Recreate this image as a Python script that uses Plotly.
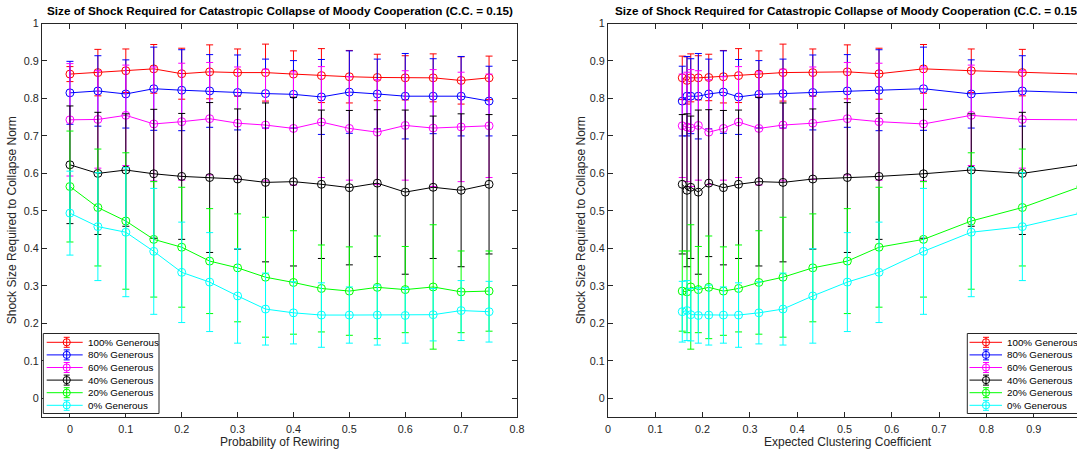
import plotly.graph_objects as go

W, H = 1077, 451
FONT = "Liberation Sans, Arial, Helvetica, sans-serif"
AXC = "#262626"

# ---------------- data ----------------
p_rewire = [0, 0.05, 0.1, 0.15, 0.2, 0.25, 0.3, 0.35, 0.4, 0.45, 0.5, 0.55, 0.6, 0.65, 0.7, 0.75]
clust_coef = [1.0, 0.876, 0.768, 0.667, 0.573, 0.506, 0.433, 0.370, 0.319, 0.276,
              0.244, 0.213, 0.191, 0.175, 0.167, 0.157]

series_names = ["100% Generous", "80% Generous", "60% Generous",
                "40% Generous", "20% Generous", "0% Generous"]
series_colors = ["#ff0000", "#0000ff", "#ff00ff", "#000000", "#00ff00", "#00ffff"]

mean_100 = [0.865, 0.869, 0.874, 0.879, 0.866, 0.871, 0.869, 0.869, 0.865, 0.861, 0.858, 0.856, 0.855, 0.855, 0.848, 0.855]
std_100 = [0.020, 0.062, 0.058, 0.065, 0.068, 0.072, 0.063, 0.076, 0.062, 0.072, 0.070, 0.062, 0.059, 0.064, 0.063, 0.058]
mean_80 = [0.815, 0.820, 0.812, 0.826, 0.822, 0.820, 0.816, 0.813, 0.811, 0.804, 0.817, 0.812, 0.806, 0.806, 0.806, 0.793]
std_80 = [0.084, 0.094, 0.091, 0.111, 0.108, 0.097, 0.100, 0.092, 0.090, 0.100, 0.110, 0.093, 0.114, 0.100, 0.106, 0.093]
mean_60 = [0.743, 0.744, 0.755, 0.732, 0.738, 0.746, 0.734, 0.729, 0.720, 0.737, 0.720, 0.710, 0.728, 0.721, 0.724, 0.727]
std_60 = [0.150, 0.130, 0.134, 0.152, 0.156, 0.150, 0.150, 0.149, 0.151, 0.148, 0.138, 0.140, 0.146, 0.156, 0.146, 0.138]
mean_40 = [0.623, 0.600, 0.609, 0.599, 0.592, 0.589, 0.585, 0.576, 0.578, 0.571, 0.562, 0.574, 0.550, 0.563, 0.555, 0.571]
std_40 = [0.157, 0.163, 0.150, 0.172, 0.168, 0.200, 0.187, 0.212, 0.225, 0.198, 0.206, 0.196, 0.219, 0.190, 0.204, 0.186]
mean_20 = [0.565, 0.509, 0.473, 0.424, 0.403, 0.366, 0.348, 0.323, 0.309, 0.293, 0.286, 0.296, 0.290, 0.297, 0.284, 0.286]
std_20 = [0.148, 0.156, 0.182, 0.154, 0.160, 0.140, 0.144, 0.160, 0.138, 0.116, 0.118, 0.137, 0.115, 0.166, 0.109, 0.107]
mean_0 = [0.494, 0.458, 0.443, 0.392, 0.336, 0.310, 0.273, 0.238, 0.228, 0.222, 0.222, 0.222, 0.221, 0.223, 0.234, 0.231]
std_0 = [0.112, 0.144, 0.172, 0.168, 0.134, 0.132, 0.126, 0.096, 0.083, 0.086, 0.075, 0.080, 0.074, 0.070, 0.080, 0.081]

series_means = [mean_100, mean_80, mean_60, mean_40, mean_20, mean_0]
series_stds = [std_100, std_80, std_60, std_40, std_20, std_0]

title_text = "Size of Shock Required for Catastropic Collapse of Moody Cooperation (C.C. = 0.15)"
ylabel_text = "Shock Size Required to Collapse Norm"
xlabel_left = "Probability of Rewiring"
xlabel_right = "Expected Clustering Coefficient"

# ---------------- layout geometry (pixels) ----------------
L_AX = (42.0, 517.0)      # left axes x pixel extent
R_AX_LEFT = 608.0         # right axes left pixel
R_PX_PER_UNIT = 473.0
R_AX_RIGHT = 1088.0       # right axes box extends past the window edge
AX_TOP, AX_BOT = 23.5, 417.0


def fx(x):
    return x / W


def fy(y):
    return 1 - y / H


fig = go.Figure()

for xs, xa, ya in [(p_rewire, "x", "y"), (clust_coef, "x2", "y2")]:
    for name, col, m, s in zip(series_names, series_colors, series_means, series_stds):
        fig.add_trace(go.Scatter(
            x=xs, y=m, name=name, xaxis=xa, yaxis=ya, mode="lines+markers",
            line=dict(color=col, width=1),
            marker=dict(symbol="circle-open", size=8, color=col, line=dict(width=1, color=col)),
            error_y=dict(type="data", array=s, visible=True, color=col, thickness=1, width=3.5),
            showlegend=False, cliponaxis=True,
        ))

axis_common = dict(showline=True, linecolor=AXC, linewidth=1, ticks="inside", ticklen=5,
                   tickcolor=AXC, tickwidth=1, showgrid=False, zeroline=False,
                   tickfont=dict(family=FONT, size=10.8, color=AXC), tick0=0, dtick=0.1)

ydom = [fy(AX_BOT), fy(AX_TOP)]
fig.update_layout(
    width=W, height=H, autosize=False,
    margin=dict(l=0, r=0, t=0, b=0, autoexpand=False),
    paper_bgcolor="white", plot_bgcolor="white",
    showlegend=False,
    xaxis=dict(axis_common, domain=[fx(L_AX[0]), fx(L_AX[1])], range=[-0.05, 0.8], mirror="ticks",
               anchor="y", ticklabelstandoff=2),
    yaxis=dict(axis_common, domain=ydom, range=[-0.05, 1.0], mirror="ticks", anchor="x"),
    xaxis2=dict(axis_common, domain=[fx(R_AX_LEFT), 1.0], range=[0, (W - R_AX_LEFT) / R_PX_PER_UNIT],
                mirror="ticks", anchor="y2", ticklabelstandoff=2),
    yaxis2=dict(axis_common, domain=ydom, range=[-0.05, 1.0], mirror=False, anchor="x2"),
)

annotations = []
shapes = []
left_center = (L_AX[0] + L_AX[1]) / 2
right_center = (R_AX_LEFT + R_AX_RIGHT) / 2
ymid = (AX_TOP + AX_BOT) / 2
for cx, ylx, xl in [(left_center, 12, xlabel_left), (right_center, 581, xlabel_right)]:
    annotations.append(dict(text="<b>" + title_text + "</b>", x=fx(cx), y=fy(10), xref="paper", yref="paper",
                            xanchor="center", yanchor="middle", showarrow=False,
                            font=dict(family=FONT, size=11.7, color="black")))
    annotations.append(dict(text=xl, x=fx(cx), y=fy(442), xref="paper", yref="paper",
                            xanchor="center", yanchor="middle", showarrow=False,
                            font=dict(family=FONT, size=12, color=AXC)))
    annotations.append(dict(text=ylabel_text, x=fx(ylx), y=fy(ymid), xref="paper", yref="paper",
                            xanchor="center", yanchor="middle", showarrow=False, textangle=-90,
                            font=dict(family=FONT, size=12, color=AXC)))

# manual legends (MATLAB-style compact box)
ROW0, ROWSTEP = 342.3, 12.6
# (box left, box right, sample line start, sample line end, marker x, text x)
legend_boxes = [(43.3, 159.0, 46.7, 82.7, 66.7, 85.7),
                (967.3, 1083.0, 969.5, 1002.0, 986.0, 1005.2)]
for bx0, bx1, lx0, lx1, mx, tx in legend_boxes:
    shapes.append(dict(type="rect", xref="paper", yref="paper", x0=fx(bx0), x1=fx(bx1),
                       y0=fy(413.5), y1=fy(333.5), line=dict(color=AXC, width=1), fillcolor="white",
                       layer="above"))
    for k, (name, col) in enumerate(zip(series_names, series_colors)):
        yc = ROW0 + ROWSTEP * k
        shapes.append(dict(type="line", xref="paper", yref="paper", x0=fx(lx0), x1=fx(lx1),
                           y0=fy(yc), y1=fy(yc), line=dict(color=col, width=1), layer="above"))
        shapes.append(dict(type="line", xref="paper", yref="paper", x0=fx(mx), x1=fx(mx),
                           y0=fy(yc - 5), y1=fy(yc + 5), line=dict(color=col, width=1), layer="above"))
        for cy in (yc - 5, yc + 5):
            shapes.append(dict(type="line", xref="paper", yref="paper", x0=fx(mx - 3), x1=fx(mx + 3),
                               y0=fy(cy), y1=fy(cy), line=dict(color=col, width=1), layer="above"))
        shapes.append(dict(type="circle", xref="paper", yref="paper", x0=fx(mx - 3.6), x1=fx(mx + 3.6),
                           y0=fy(yc + 3.6), y1=fy(yc - 3.6), line=dict(color=col, width=1), layer="above"))
        annotations.append(dict(text=name, x=fx(tx), y=fy(yc), xref="paper", yref="paper",
                                xanchor="left", yanchor="middle", showarrow=False,
                                font=dict(family=FONT, size=9.8, color="black")))

fig.update_layout(annotations=annotations, shapes=shapes)

fig.write_html("out.html")
